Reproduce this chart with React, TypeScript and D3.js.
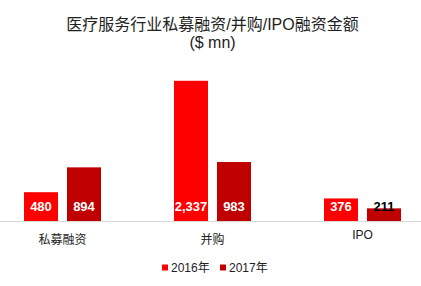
import React from "react";
import * as d3 from "d3";

const categories = ["私募融资", "并购", "IPO"];
const seriesNames = ["2016年", "2017年"];
const values2016 = [480, 2337, 376];
const values2017 = [894, 983, 211];
const titleLines = ["医疗服务行业私募融资/并购/IPO融资金额", "($ mn)"];

const W = 421;
const H = 286;
const FONT = "'Liberation Sans', Arial, 'Noto Sans CJK SC', sans-serif";
const colors = ["#FF0000", "#C00000"];
const labelColors = ["#FFFFFF", "#FFFFFF"];

export default function App() {
  const baseY = 221;
  const x0 = d3.scaleBand<string>().domain(categories).range([-12.5, 437.5]).paddingInner(0).paddingOuter(0);
  const bw = x0.bandwidth();
  const x1 = d3
    .scaleBand<string>()
    .domain(seriesNames)
    .range([bw / 2 - 38.5, bw / 2 + 38.5])
    .paddingInner(9 / 43)
    .paddingOuter(0);
  const y = d3.scaleLinear().domain([0, 2500]).range([baseY, 71]);
  const series = [values2016, values2017];
  const fmt = d3.format(",");

  return (
    <svg width={W} height={H} style={{ position: "absolute", left: 0, top: 0, background: "#fff" }} fontFamily={FONT}>
      <rect x={0} y={0} width={W} height={H} fill="#fff" />
      {titleLines.map((t, i) => (
        <text key={t} x={212.5} y={i === 0 ? 30 : 48} textAnchor="middle" fontSize={16} fill="#222">
          {t}
        </text>
      ))}
      {categories.map((c, ci) => (
        <g key={c} transform={`translate(${x0(c)},0)`}>
          {seriesNames.map((s, si) => {
            const v = series[si][ci];
            const bx = x1(s)!;
            const by = y(v);
            const small = baseY - by < 18;
            return (
              <g key={s}>
                <rect x={bx} y={by} width={x1.bandwidth()} height={baseY - by} fill={colors[si]} />
                <text
                  x={bx + x1.bandwidth() / 2}
                  y={211}
                  textAnchor="middle"
                  fontSize={13}
                  fontWeight="bold"
                  fill={small ? "#000" : labelColors[si]}
                >
                  {fmt(v)}
                </text>
              </g>
            );
          })}
          <text
            x={bw / 2}
            y={/^[\x00-\x7F]+$/.test(c) ? 239 : 244}
            textAnchor="middle"
            fontSize={12}
            fill="#222"
          >
            {c}
          </text>
        </g>
      ))}
      <line x1={0} x2={W} y1={baseY + 0.5} y2={baseY + 0.5} stroke="#D9D9D9" strokeWidth={1} />
      {seriesNames.map((s, si) => {
        const lx = 162 + si * 58;
        return (
          <g key={s}>
            <rect x={lx} y={264.5} width={6} height={6} fill={colors[si]} />
            <text x={lx + 9} y={272} fontSize={12} fill="#222">
              {s}
            </text>
          </g>
        );
      })}
    </svg>
  );
}
